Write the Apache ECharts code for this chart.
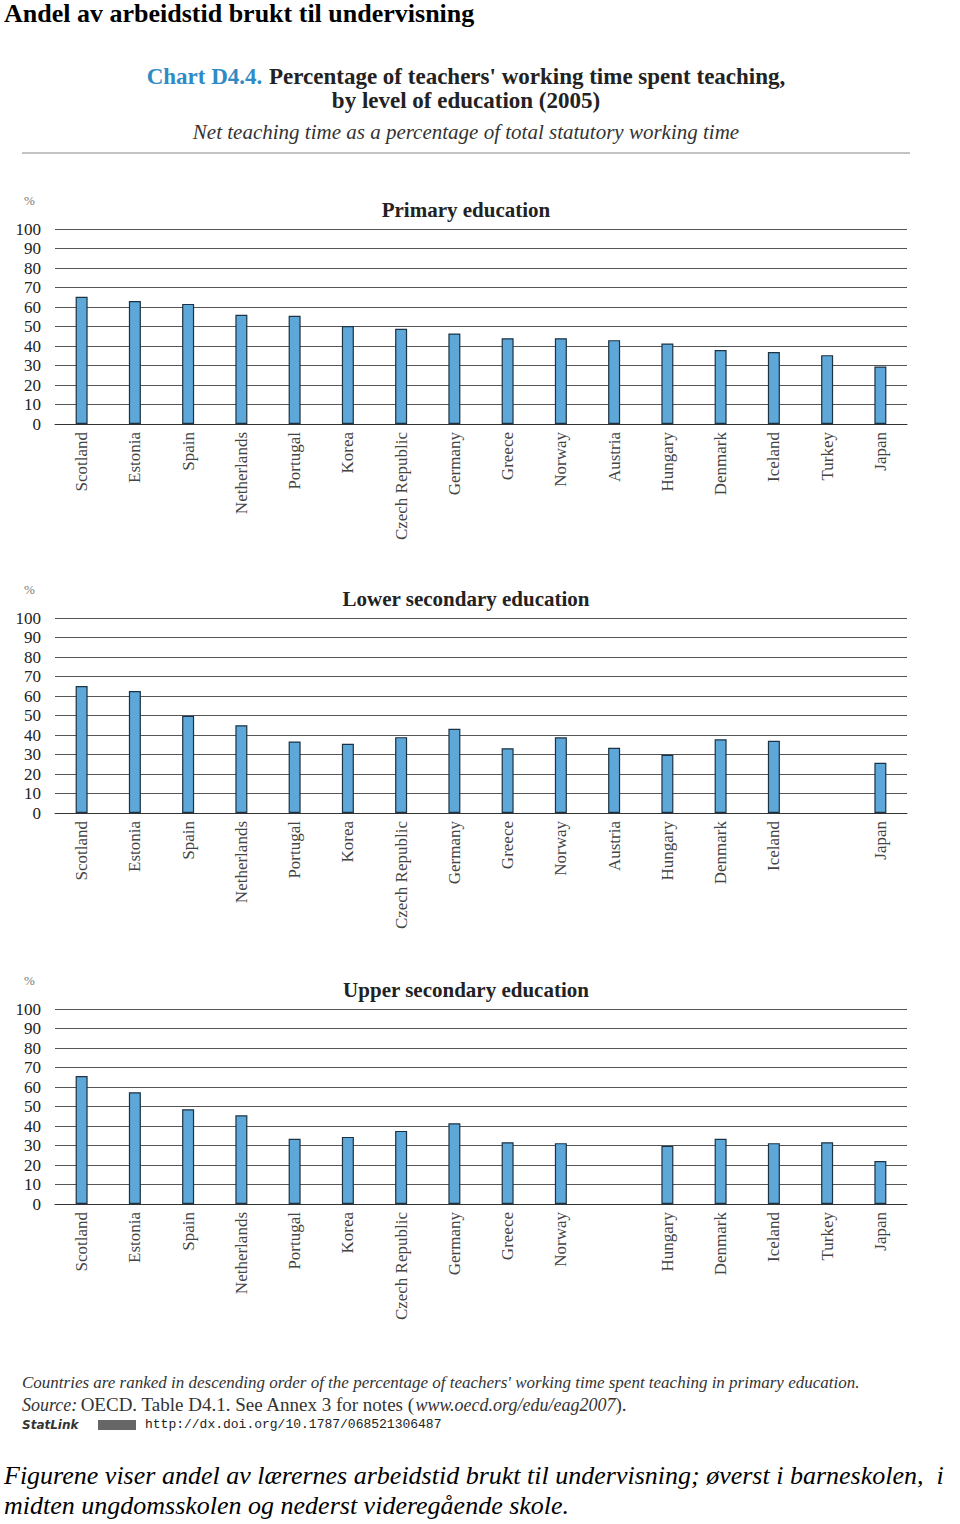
<!DOCTYPE html>
<html>
<head>
<meta charset="utf-8">
<script src="https://cdn.jsdelivr.net/npm/echarts@6/dist/echarts.min.js"></script>
<style>
html,body{margin:0;padding:0;background:#fff;}
#c{width:960px;height:1524px;}
</style>
</head>
<body>
<div id="c"></div>
<script>
var countries = ['Scotland','Estonia','Spain','Netherlands','Portugal','Korea','Czech Republic','Germany','Greece','Norway','Austria','Hungary','Denmark','Iceland','Turkey','Japan'];
var primary = [65.2, 63.1, 61.6, 56, 55.5, 50.2, 48.8, 46.4, 44, 44, 43, 41.3, 37.9, 36.9, 35.3, 29.5];
var lowerSecondary = [65.1, 62.6, 49.8, 45, 36.7, 35.5, 38.9, 43.2, 33.2, 38.8, 33.5, 29.9, 37.8, 37, null, 25.8];
var upperSecondary = [65.6, 57.3, 48.6, 45.5, 33.4, 34.4, 37.5, 41.4, 31.7, 31.2, null, 29.8, 33.4, 31.2, 31.7, 22];
var yTicks = [0, 10, 20, 30, 40, 50, 60, 70, 80, 90, 100];
var panelTitles = ['Primary education', 'Lower secondary education', 'Upper secondary education'];

var serif = "'Liberation Serif', 'DejaVu Serif', serif";
var panels = [primary, lowerSecondary, upperSecondary];
var gridTops = [229, 618, 1009];
var gridH = 195;

var grids = [], xAxes = [], yAxes = [], series = [], graphics = [];
panels.forEach(function (data, i) {
  grids.push({left: 55, right: 53, top: gridTops[i], height: gridH});
  xAxes.push({
    type: 'category', gridIndex: i, data: countries,
    axisTick: {show: false},
    axisLine: {lineStyle: {color: '#333', width: 1}},
    axisLabel: {
      rotate: 90, margin: 8, interval: 0,
      fontFamily: serif, fontSize: 17, color: '#444',
      formatter: function (v, idx) { return data[idx] == null ? '' : v; }
    }
  });
  yAxes.push({
    type: 'value', gridIndex: i, min: yTicks[0], max: yTicks[yTicks.length - 1], interval: 10,
    axisLine: {show: false}, axisTick: {show: false},
    axisLabel: {margin: 14, fontFamily: serif, fontSize: 17, color: '#222'},
    splitLine: {lineStyle: {color: '#555', width: 1}}
  });
  series.push({
    type: 'bar', xAxisIndex: i, yAxisIndex: i, data: data, barWidth: 12,
    itemStyle: {color: '#5ea8d9', borderColor: '#1c3344', borderWidth: 1.2}
  });
  graphics.push({type: 'text', left: 24, top: gridTops[i] - 35,
    style: {text: '%', font: '13px ' + serif, fill: '#777'}});
  graphics.push({type: 'text', x: 466, y: gridTops[i] - 19,
    style: {text: panelTitles[i], font: 'bold 21px ' + serif, fill: '#222', textAlign: 'center', textVerticalAlign: 'middle'}});
});

graphics.push(
  {type: 'text', left: 4, top: 0,
   style: {text: 'Andel av arbeidstid brukt til undervisning', font: 'bold 26px ' + serif, fill: '#000'}},
  {type: 'text', x: 466, y: 76,
   style: {text: '{a|Chart D4.4.}  {b|Percentage of teachers\' working time spent teaching,}',
     textAlign: 'center', textVerticalAlign: 'middle',
     rich: {a: {font: 'bold 23px ' + serif, fill: '#2f8bc4', color: '#2f8bc4'}, b: {font: 'bold 23px ' + serif, fill: '#222', color: '#222'}}}},
  {type: 'text', x: 466, y: 100,
   style: {text: 'by level of education (2005)', font: 'bold 23px ' + serif, fill: '#222', textAlign: 'center', textVerticalAlign: 'middle'}},
  {type: 'text', x: 466, y: 132,
   style: {text: 'Net teaching time as a percentage of total statutory working time', font: 'italic 21px ' + serif, fill: '#333', textAlign: 'center', textVerticalAlign: 'middle'}},
  {type: 'line', shape: {x1: 22, y1: 153, x2: 910, y2: 153}, style: {stroke: '#888', lineWidth: 1}},
  {type: 'text', left: 22, top: 1374,
   style: {text: 'Countries are ranked in descending order of the percentage of teachers\' working time spent teaching in primary education.', font: 'italic 17px ' + serif, fill: '#333'}},
  {type: 'text', left: 22, top: 1395,
   style: {text: '{i|Source:} {r|OECD. Table D4.1. See Annex 3 for notes (}{i|www.oecd.org/edu/eag2007}{r|).}',
     rich: {i: {font: 'italic 18px ' + serif, fill: '#333', color: '#333'}, r: {font: '19px ' + serif, fill: '#333', color: '#333'}}}},
  {type: 'text', left: 22, top: 1419,
   style: {text: 'StatLink', font: 'italic bold 12px "DejaVu Sans", sans-serif', fill: '#333'}},
  {type: 'rect', shape: {x: 98, y: 1420, width: 38, height: 10}, style: {fill: '#666'}},
  {type: 'text', left: 145, top: 1418,
   style: {text: 'http://dx.doi.org/10.1787/068521306487', font: '13px "Liberation Mono", "DejaVu Sans Mono", monospace', fill: '#222'}},
  {type: 'text', left: 4, top: 1462,
   style: {text: 'Figurene viser andel av lærernes arbeidstid brukt til undervisning; øverst i barneskolen,  i', font: 'italic 26px ' + serif, fill: '#000'}},
  {type: 'text', left: 4, top: 1492,
   style: {text: 'midten ungdomsskolen og nederst videregående skole.', font: 'italic 26px ' + serif, fill: '#000'}}
);

var chart = echarts.init(document.getElementById('c'), null, {renderer: 'svg'});
chart.setOption({
  animation: false,
  backgroundColor: '#fff',
  grid: grids, xAxis: xAxes, yAxis: yAxes, series: series, graphic: graphics
});
</script>
</body>
</html>
